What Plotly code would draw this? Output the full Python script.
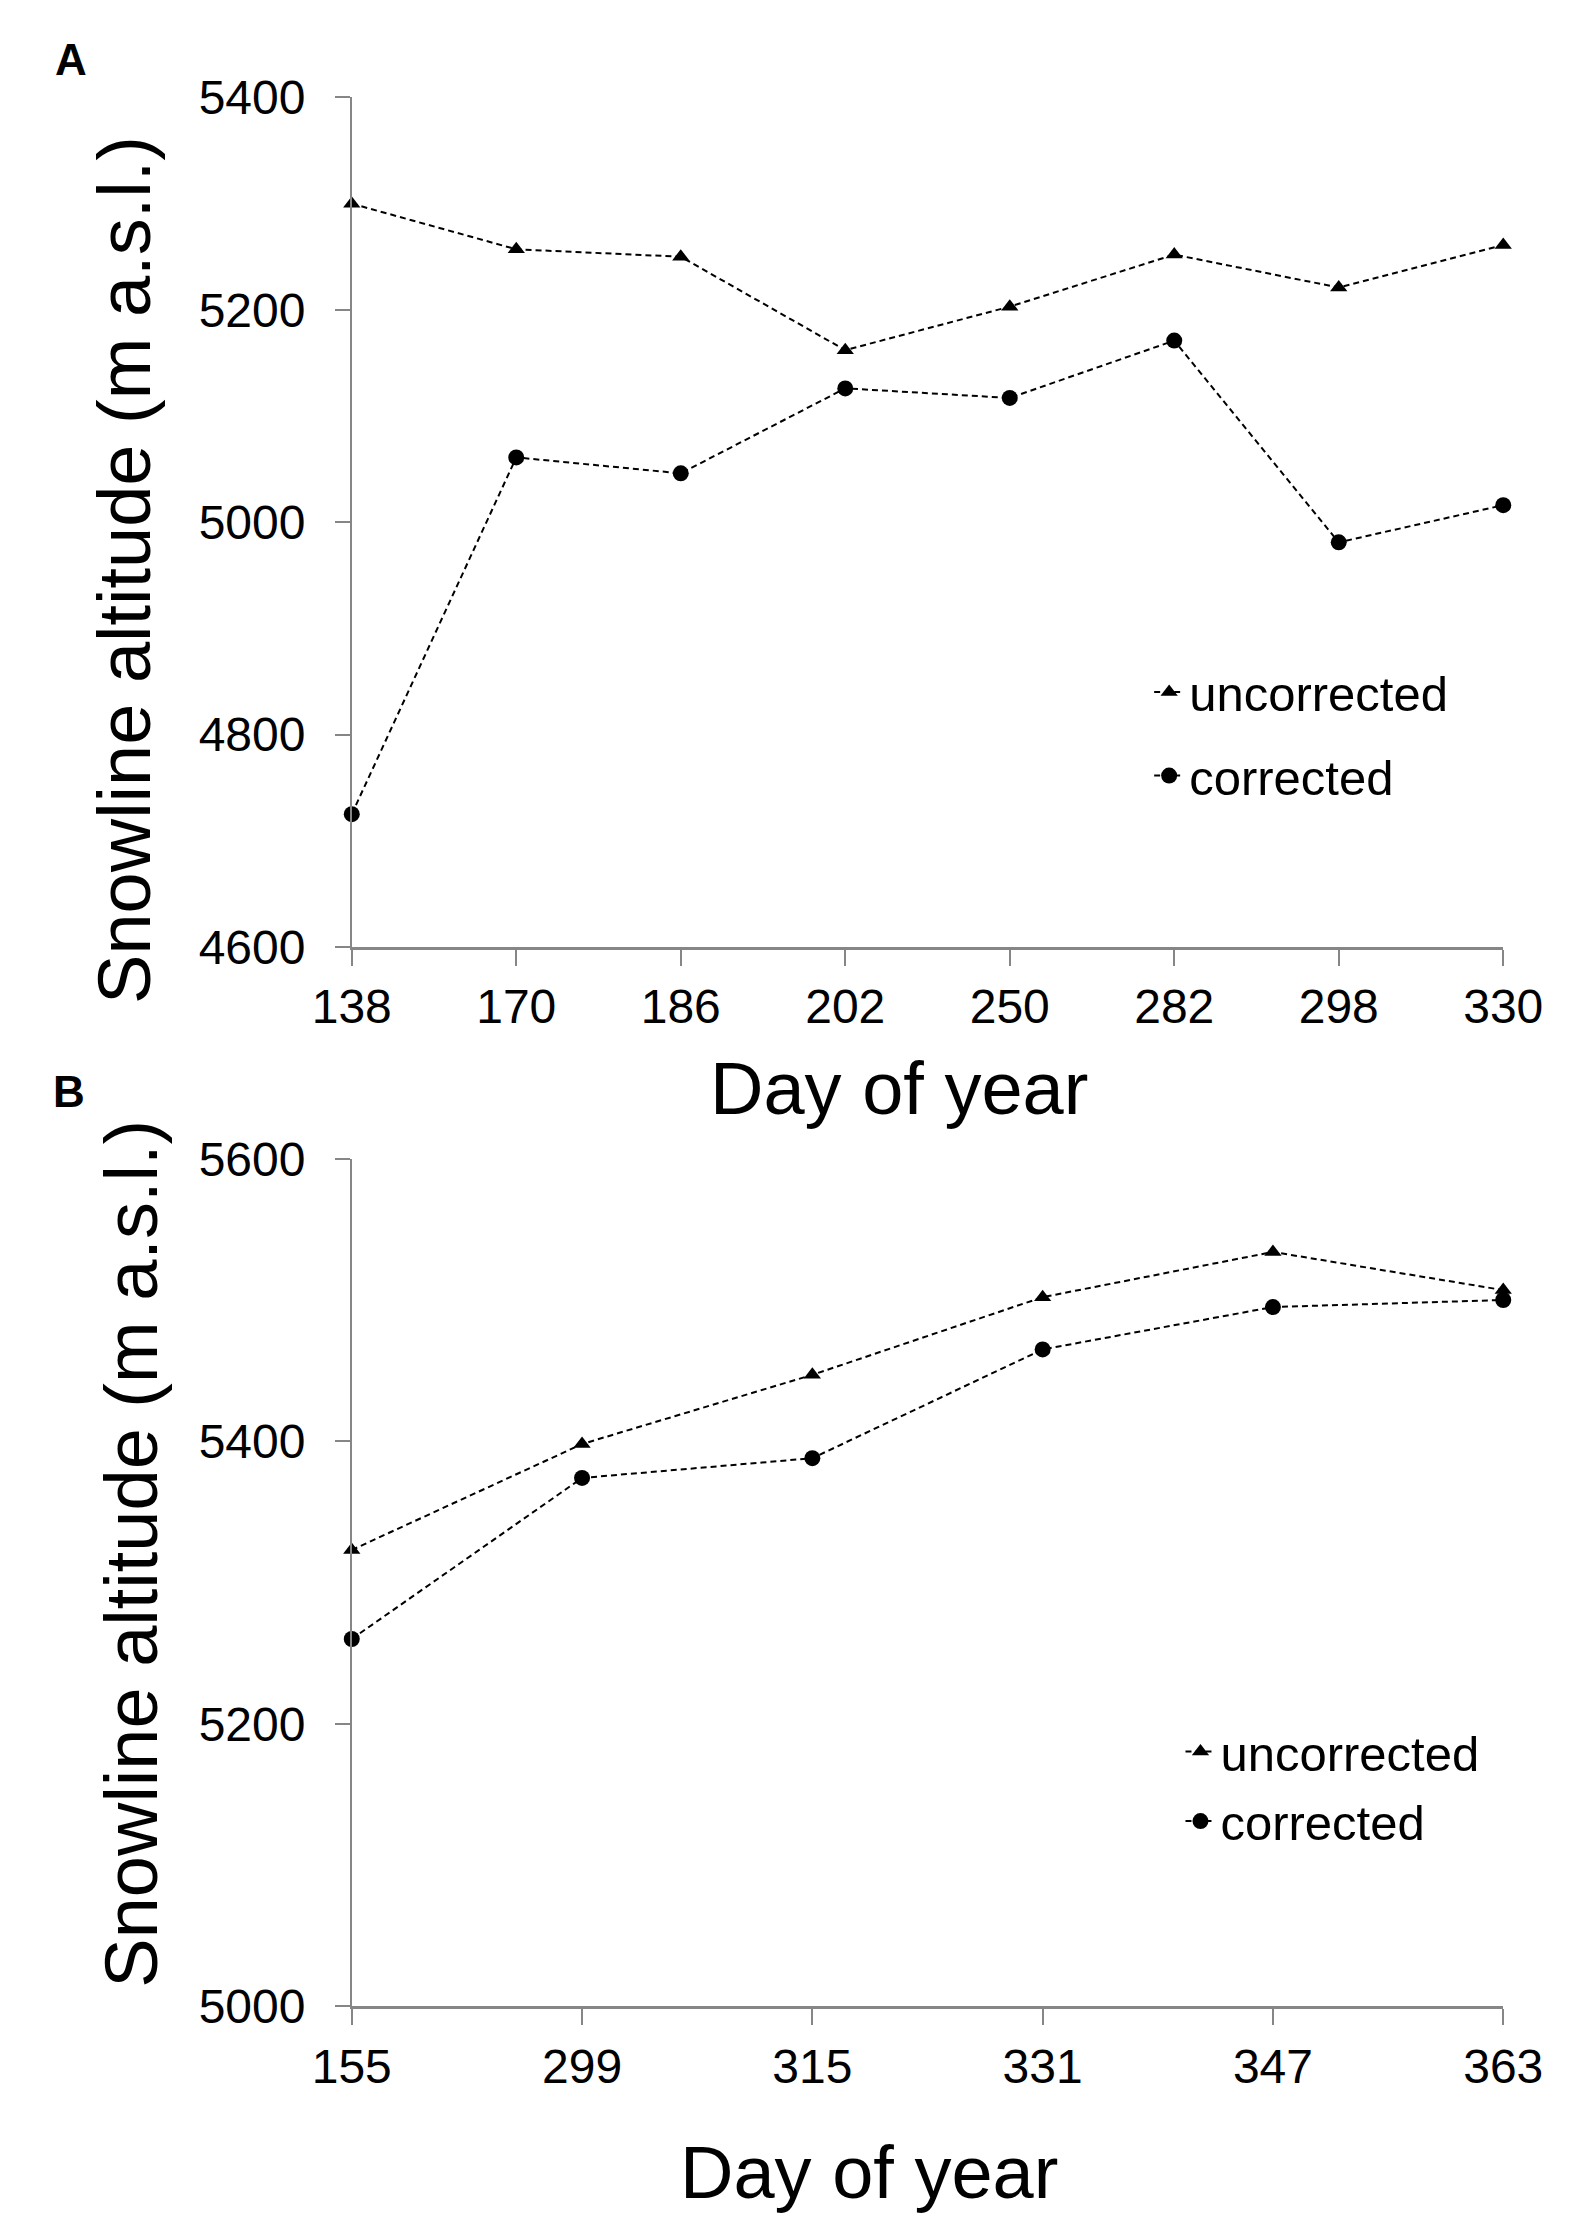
import plotly.graph_objects as go

# panel A
days_a = ["138", "170", "186", "202", "250", "282", "298", "330"]
uncorr_a = [5300, 5257, 5250, 5162, 5203, 5252, 5221, 5261]
corr_a = [4725, 5061, 5046, 5126, 5117, 5171, 4981, 5016]

# panel B
days_b = ["155", "299", "315", "331", "347", "363"]
uncorr_b = [5323, 5398, 5447, 5502, 5534, 5507]
corr_b = [5260, 5374, 5388, 5465, 5495, 5500]

W, H = 1577, 2240
FONT = "Arial, Liberation Sans, sans-serif"
GRAY = "#868686"

def px(x):
    return x / W

def py(y):
    return 1 - y / H

fig = go.Figure()

def add_series(x, y, name, symbol, size, xa, ya, legend, group):
    fig.add_trace(go.Scatter(
        x=x, y=y, name=name, mode="lines+markers",
        line=dict(color="black", width=2, dash="6px,4px"),
        marker=dict(symbol=symbol, size=size, color="black"),
        xaxis=xa, yaxis=ya, legend=legend, legendgroup=group,
        cliponaxis=False,
    ))

add_series(days_a, uncorr_a, "uncorrected", "triangle-up", 15, "x", "y", "legend", "a1")
add_series(days_a, corr_a, "corrected", "circle", 16, "x", "y", "legend", "a2")
add_series(days_b, uncorr_b, "uncorrected", "triangle-up", 15, "x2", "y2", "legend2", "b1")
add_series(days_b, corr_b, "corrected", "circle", 16, "x2", "y2", "legend2", "b2")

xdom = [px(320), px(1533)]

def xaxis(n, anchor):
    return dict(
        type="category", range=[0, n - 1], domain=xdom, anchor=anchor,
        showline=True, linecolor=GRAY, linewidth=3, showgrid=False, zeroline=False,
        ticks="outside", ticklen=16, tickcolor=GRAY, tickwidth=1.5,
        tickfont=dict(family=FONT, size=48, color="black"),
        ticklabelstandoff=0,
    )

def yaxis(rng, dom, anchor):
    return dict(
        range=rng, dtick=200, domain=dom, anchor=anchor,
        showline=True, linecolor=GRAY, linewidth=1.5, showgrid=False, zeroline=False,
        ticks="outside", ticklen=15, tickcolor=GRAY, tickwidth=1.5,
        tickfont=dict(family=FONT, size=48, color="black"),
        ticklabelstandoff=20,
    )

legend_common = dict(
    font=dict(family=FONT, size=49, color="black"),
    bgcolor="rgba(0,0,0,0)", xanchor="left", yanchor="middle",
    traceorder="grouped",
)

fig.update_layout(
    width=W, height=H,
    margin=dict(l=0, r=0, t=0, b=0),
    paper_bgcolor="white", plot_bgcolor="white",
    xaxis=xaxis(len(days_a), "y"),
    yaxis=yaxis([4600, 5400], [py(935), py(65)], "x"),
    xaxis2=xaxis(len(days_b), "y2"),
    yaxis2=yaxis([5000, 5600], [py(2020), py(1152)], "x2"),
    legend=dict(x=px(1160), y=py(717), tracegroupgap=17, **legend_common),
    legend2=dict(x=px(1193), y=py(1795), tracegroupgap=3, **legend_common),
    showlegend=True,
)

title_font = dict(family=FONT, size=74, color="black")
label_font = dict(family=FONT, size=44, color="black")
annos = [
    dict(text="Day of year", x=px(897), y=py(1080), font=title_font),
    dict(text="Day of year", x=px(865), y=py(2190), font=title_font),
    dict(text="Snowline altitude (m a.s.l.)", x=px(80), y=py(549), textangle=-90, font=title_font),
    dict(text="Snowline altitude (m a.s.l.)", x=px(88), y=py(1557), textangle=-90, font=title_font),
    dict(text="<b>A</b>", x=px(24), y=py(26), font=label_font),
    dict(text="<b>B</b>", x=px(22), y=py(1083), font=label_font),
]
for a in annos:
    fig.add_annotation(xref="paper", yref="paper", showarrow=False,
                       xanchor="center", yanchor="middle", **a)

fig.write_html("out.html")
